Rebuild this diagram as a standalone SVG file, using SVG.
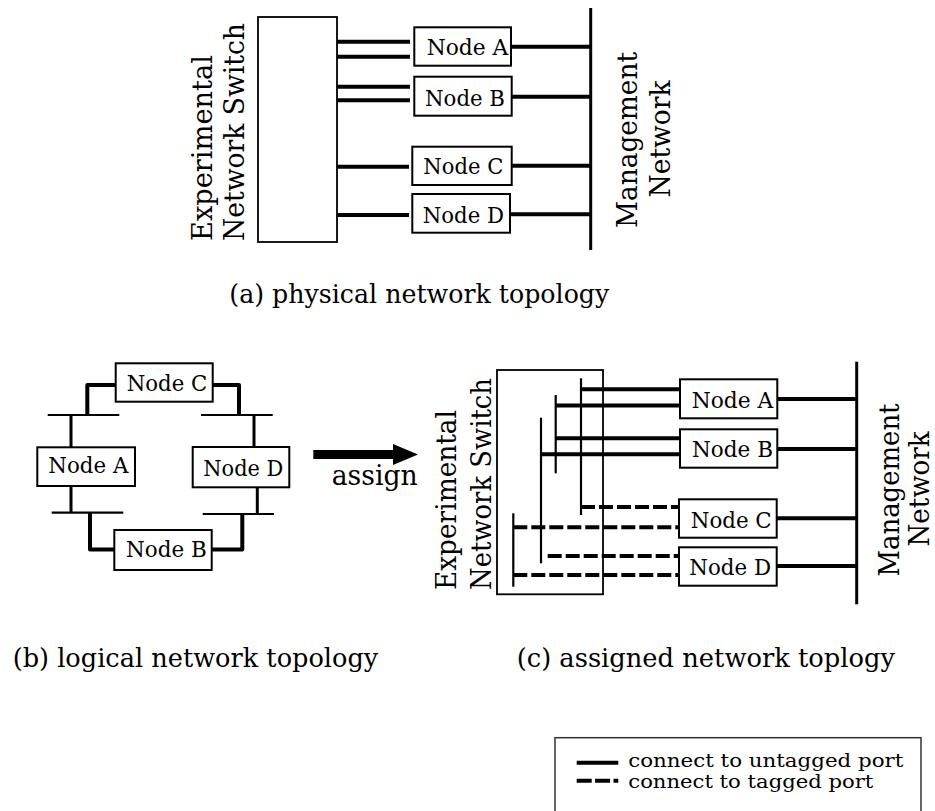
<svg xmlns="http://www.w3.org/2000/svg" width="935" height="811" viewBox="0 0 935 811">
<style>
  .box { fill: #fff; stroke: #000; stroke-width: 2; }
  .sw { fill: #fff; stroke: #000; stroke-width: 1.8; }
  .t { font-family: "DejaVu Serif", "Liberation Serif", serif; fill: #000; }
  .lbl { font-size: 22.5px; }
  .big { font-size: 28.5px; }
  .cap { font-size: 26px; }
  .leg { font-size: 18px; }
  .thick { stroke: #000; stroke-width: 4; fill: none; stroke-linejoin: round; }
  .mid { stroke: #000; stroke-width: 3; fill: none; }
  .thin { stroke: #000; stroke-width: 2.2; fill: none; }
  .dash { stroke-dasharray: 14 4; }
</style>
<rect width="935" height="811" fill="#fff"/>

<!-- ===== (a) physical network topology ===== -->
<g id="a-switch">
  <rect class="sw" x="258" y="17" width="79" height="225"/>
  <text class="t big" transform="translate(211.5,241) rotate(-90)" textLength="186" lengthAdjust="spacingAndGlyphs">Experimental</text>
  <text class="t big" transform="translate(243.5,241) rotate(-90)" textLength="218" lengthAdjust="spacingAndGlyphs">Network Switch</text>
</g>
<g id="a-mgmt">
  <line class="mid" x1="590.7" y1="8" x2="590.7" y2="250"/>
  <text class="t big" transform="translate(636.7,140) rotate(-90)" text-anchor="middle" textLength="176" lengthAdjust="spacingAndGlyphs">Management</text>
  <text class="t big" transform="translate(670,139) rotate(-90)" text-anchor="middle" textLength="117" lengthAdjust="spacingAndGlyphs">Network</text>
</g>
<g id="a-nodeA">
  <rect class="box" x="414.3" y="27.3" width="96.7" height="38.4"/>
  <text class="t lbl" x="426.7" y="55" textLength="81.6" lengthAdjust="spacingAndGlyphs">Node A</text>
</g>
<g id="a-nodeB">
  <rect class="box" x="414.3" y="76.7" width="97.4" height="39"/>
  <text class="t lbl" x="425" y="106" textLength="80" lengthAdjust="spacingAndGlyphs">Node B</text>
</g>
<g id="a-nodeC">
  <rect class="box" x="412.3" y="146.7" width="99.4" height="38.3"/>
  <text class="t lbl" x="423.3" y="174" textLength="80" lengthAdjust="spacingAndGlyphs">Node C</text>
</g>
<g id="a-nodeD">
  <rect class="box" x="412.3" y="194" width="97.7" height="38.7"/>
  <text class="t lbl" x="422.7" y="222.7" textLength="81.3" lengthAdjust="spacingAndGlyphs">Node D</text>
</g>
<g id="a-connectors">
  <line class="thick" x1="337" y1="41.7" x2="410" y2="41.7"/>
  <line class="thick" x1="337" y1="56.7" x2="410" y2="56.7"/>
  <line class="thick" x1="337" y1="86.7" x2="410" y2="86.7"/>
  <line class="thick" x1="337" y1="100.3" x2="410" y2="100.3"/>
  <line class="thick" x1="337" y1="166.7" x2="409" y2="166.7"/>
  <line class="thick" x1="337" y1="215" x2="409" y2="215"/>
  <line class="thick" x1="511" y1="46.7" x2="590" y2="46.7"/>
  <line class="thick" x1="511.7" y1="96.7" x2="590" y2="96.7"/>
  <line class="thick" x1="511.7" y1="165.7" x2="590" y2="165.7"/>
  <line class="thick" x1="510" y1="214.3" x2="590" y2="214.3"/>
</g>
<text class="t cap" x="229.3" y="303.3" textLength="380" lengthAdjust="spacingAndGlyphs">(a) physical network topology</text>

<!-- ===== (b) logical network topology ===== -->
<g id="b-nodeC">
  <rect class="box" x="115.7" y="363.3" width="97" height="38.4"/>
  <text class="t lbl" x="126.7" y="390.7" textLength="80.6" lengthAdjust="spacingAndGlyphs">Node C</text>
</g>
<g id="b-nodeA">
  <rect class="box" x="37.3" y="447.3" width="97.7" height="38.7"/>
  <text class="t lbl" x="48.3" y="473.3" textLength="80" lengthAdjust="spacingAndGlyphs">Node A</text>
</g>
<g id="b-nodeD">
  <rect class="box" x="192.7" y="447" width="96.6" height="40.3"/>
  <text class="t lbl" x="203.3" y="476" textLength="80" lengthAdjust="spacingAndGlyphs">Node D</text>
</g>
<g id="b-nodeB">
  <rect class="box" x="114.3" y="530" width="97.4" height="40"/>
  <text class="t lbl" x="126" y="556.5" textLength="80.7" lengthAdjust="spacingAndGlyphs">Node B</text>
</g>
<g id="b-connectors">
  <line class="thin" x1="47.7" y1="415" x2="119.3" y2="415"/>
  <line class="thin" x1="201" y1="415" x2="272.7" y2="415"/>
  <line class="thin" x1="51.7" y1="512.7" x2="123.3" y2="512.7"/>
  <line class="thin" x1="202.7" y1="514" x2="274" y2="514"/>
  <path class="thick" d="M115.7,385 H87.3 V415"/>
  <path class="thick" d="M212.7,385 H239 V415"/>
  <line class="mid" x1="71" y1="415" x2="71" y2="447.3"/>
  <line class="mid" x1="71" y1="486" x2="71" y2="512.7"/>
  <line class="mid" x1="254" y1="415" x2="254" y2="447"/>
  <line class="mid" x1="257.3" y1="487.3" x2="257.3" y2="514"/>
  <path class="thick" d="M90,512.7 V549.5 H114.3"/>
  <path class="thick" d="M211.7,549.5 H242.3 V514"/>
</g>
<text class="t cap" x="12.7" y="666.7" textLength="365.6" lengthAdjust="spacingAndGlyphs">(b) logical network topology</text>

<!-- assign arrow -->
<g id="assign-arrow">
  <rect x="313.3" y="450" width="80" height="9" fill="#000"/>
  <polygon points="393,444 418,454.5 393,465" fill="#000"/>
  <text class="t" font-size="27" x="331.7" y="485" textLength="86" lengthAdjust="spacingAndGlyphs">assign</text>
</g>

<!-- ===== (c) assigned network topology ===== -->
<g id="c-switch">
  <rect class="sw" x="497" y="370" width="106" height="224.3"/>
  <text class="t big" transform="translate(456,590) rotate(-90)" textLength="180" lengthAdjust="spacingAndGlyphs">Experimental</text>
  <text class="t big" transform="translate(490.7,590) rotate(-90)" textLength="212" lengthAdjust="spacingAndGlyphs">Network Switch</text>
</g>
<g id="c-mgmt">
  <line class="mid" x1="856.7" y1="361.7" x2="856.7" y2="604.3"/>
  <text class="t big" transform="translate(899,490) rotate(-90)" text-anchor="middle" textLength="173" lengthAdjust="spacingAndGlyphs">Management</text>
  <text class="t big" transform="translate(929,489) rotate(-90)" text-anchor="middle" textLength="115" lengthAdjust="spacingAndGlyphs">Network</text>
</g>
<g id="c-nodeA">
  <rect class="box" x="680" y="379.3" width="97.3" height="39"/>
  <text class="t lbl" x="691.7" y="408.3" textLength="81.6" lengthAdjust="spacingAndGlyphs">Node A</text>
</g>
<g id="c-nodeB">
  <rect class="box" x="680" y="429.3" width="97.3" height="38.4"/>
  <text class="t lbl" x="692" y="456.7" textLength="81" lengthAdjust="spacingAndGlyphs">Node B</text>
</g>
<g id="c-nodeC">
  <rect class="box" x="679" y="499.3" width="97.7" height="38.4"/>
  <text class="t lbl" x="690.7" y="527.7" textLength="81" lengthAdjust="spacingAndGlyphs">Node C</text>
</g>
<g id="c-nodeD">
  <rect class="box" x="679" y="547.3" width="97.7" height="38.4"/>
  <text class="t lbl" x="689.3" y="575" textLength="81.7" lengthAdjust="spacingAndGlyphs">Node D</text>
</g>
<g id="c-connectors">
  <line class="thin" x1="581" y1="378.3" x2="581" y2="515"/>
  <line class="thin" x1="555.7" y1="395" x2="555.7" y2="473.3"/>
  <line class="thin" x1="541" y1="417.7" x2="541" y2="563.3"/>
  <line class="thin" x1="513.3" y1="513.3" x2="513.3" y2="586.7"/>
  <line class="thick" x1="581" y1="389.3" x2="680" y2="389.3"/>
  <line class="thick" x1="555.7" y1="405.5" x2="680" y2="405.5"/>
  <line class="thick" x1="555.7" y1="438.3" x2="680" y2="438.3"/>
  <line class="thick" x1="541" y1="454.3" x2="680" y2="454.3"/>
  <line class="thick dash" x1="581" y1="507" x2="679" y2="507"/>
  <line class="thick dash" x1="513.3" y1="527.3" x2="679" y2="527.3"/>
  <line class="thick dash" x1="547.7" y1="556" x2="679" y2="556"/>
  <line class="thick dash" x1="513.3" y1="575" x2="679" y2="575"/>
  <line class="thick" x1="777.3" y1="399" x2="856" y2="399"/>
  <line class="thick" x1="777.3" y1="449" x2="856" y2="449"/>
  <line class="thick" x1="776.7" y1="518.3" x2="856" y2="518.3"/>
  <line class="thick" x1="776.7" y1="566" x2="856" y2="566"/>
</g>
<text class="t cap" x="516.7" y="666.7" textLength="378.3" lengthAdjust="spacingAndGlyphs">(c) assigned network toplogy</text>

<!-- ===== legend ===== -->
<g id="legend">
  <rect x="555" y="737.7" width="366" height="90" fill="#fff" stroke="#333" stroke-width="1.5"/>
  <line class="thick" x1="576.7" y1="762.7" x2="618.3" y2="762.7"/>
  <text class="t leg" x="628.3" y="766.5" textLength="275" lengthAdjust="spacingAndGlyphs">connect to untagged port</text>
  <line class="thick" x1="576.7" y1="780.7" x2="618.3" y2="780.7" stroke-dasharray="15 3.4"/>
  <text class="t leg" x="628.3" y="788" textLength="245" lengthAdjust="spacingAndGlyphs">connect to tagged port</text>
</g>
</svg>
